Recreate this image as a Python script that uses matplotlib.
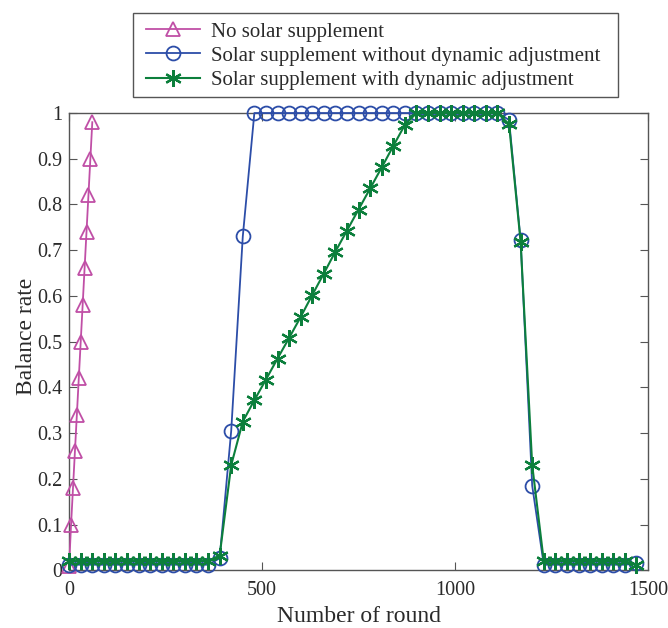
"""
Balance rate vs number of round for three solar supplement strategies
"""

import matplotlib
matplotlib.use("Agg")
import matplotlib.pyplot as plt
from matplotlib.patches import Rectangle

# pink: no solar supplement
rounds_none = [0, 5, 10, 15, 20, 25, 30, 35, 40, 45, 50, 55, 60]
rate_none = [0.01, 0.10, 0.18, 0.26, 0.34, 0.42, 0.50, 0.58, 0.66, 0.74, 0.82, 0.90, 0.98]

# rounds sampled every 30 for the two solar cases
rounds_solar = list(range(0, 1500, 30))

# blue: solar supplement without dynamic adjustment
rate_static = ([0.012] * 13 + [0.026, 0.305, 0.73] + [1.0] * 22
               + [0.985, 0.722, 0.185] + [0.012] * 8 + [0.015])

# green: solar supplement with dynamic adjustment
rate_dynamic = ([0.02] * 13
                + [0.032, 0.23, 0.325, 0.372, 0.417, 0.463, 0.508, 0.554, 0.602,
                   0.649, 0.697, 0.743, 0.789, 0.835, 0.881, 0.928, 0.974]
                + [1.0] * 8
                + [0.976, 0.718, 0.23] + [0.02] * 8 + [0.012])

labels = ["No solar supplement",
          "Solar supplement without dynamic adjustment",
          "Solar supplement with dynamic adjustment"]

x_ticks = [0, 500, 1000, 1500]
y_ticks = [0, 0.1, 0.2, 0.3, 0.4, 0.5, 0.6, 0.7, 0.8, 0.9, 1]
y_ticklabels = ["0", "0.1", "0.2", "0.3", "0.4", "0.5", "0.6", "0.7", "0.8", "0.9", "1"]

plt.rcParams["font.family"] = ["Liberation Serif", "DejaVu Serif"]

PINK = "#C04FA6"
BLUE = "#2C4DA8"
GREEN = "#0C7F3C"
GREY = "#555555"
TEXT = "#2a2a2a"

W, H = 668, 628
fig = plt.figure(figsize=(W / 100, H / 100), dpi=100)
ax = fig.add_axes([0.1035, 0.092, 0.8665, 0.728])

ax.plot(rounds_none, rate_none, color=PINK, lw=1.3, marker="^", ms=10.5,
        mfc="none", mew=1.3, label=labels[0], clip_on=False, zorder=3)
ax.plot(rounds_solar, rate_static, color=BLUE, lw=1.3, marker="o", ms=10,
        mfc="none", mew=1.3, label=labels[1], clip_on=False, zorder=4)
# asterisk-like marker (6 spokes)
ax.plot(rounds_solar, rate_dynamic, color=GREEN, lw=1.5, marker=(6, 2, 0), ms=12,
        mew=1.6, label=labels[2], clip_on=False, zorder=5)

ax.set_xlim(0, 1500)
ax.set_ylim(0, 1)
ax.set_xticks(x_ticks)
ax.set_yticks(y_ticks)
ax.set_yticklabels(y_ticklabels)

ax.tick_params(direction="in", length=6, width=0.8, colors=GREY,
               top=True, right=True, labelsize=14.5, labelcolor=TEXT)
ax.tick_params(axis="x", pad=8)
ax.tick_params(axis="y", pad=5)
for sp in ax.spines.values():
    sp.set_color(GREY)
    sp.set_linewidth(1.0)

ax.set_xlabel("Number of round", fontsize=17, color=TEXT, labelpad=4)
ax.set_ylabel("Balance rate", fontsize=17, color=TEXT)
ax.yaxis.set_label_coords(-0.055, 0.511)

# legend entries without frame, box drawn separately (x 133..618, y 13..97 px)
leg = ax.legend(loc="upper left", fontsize=15, frameon=False,
                handlelength=2.6, handletextpad=0.5, borderpad=0,
                labelspacing=0.22, borderaxespad=0,
                bbox_to_anchor=(146 / W, 1 - 22 / H),
                bbox_transform=fig.transFigure)
for txt in leg.get_texts():
    txt.set_color(TEXT)

fig.patches.append(Rectangle((132.7 / W, 1 - 96.7 / H), (618.3 - 132.7) / W,
                             84 / H, transform=fig.transFigure, fill=False,
                             edgecolor=GREY, lw=1.0))

fig.savefig("out.png", dpi=100)
